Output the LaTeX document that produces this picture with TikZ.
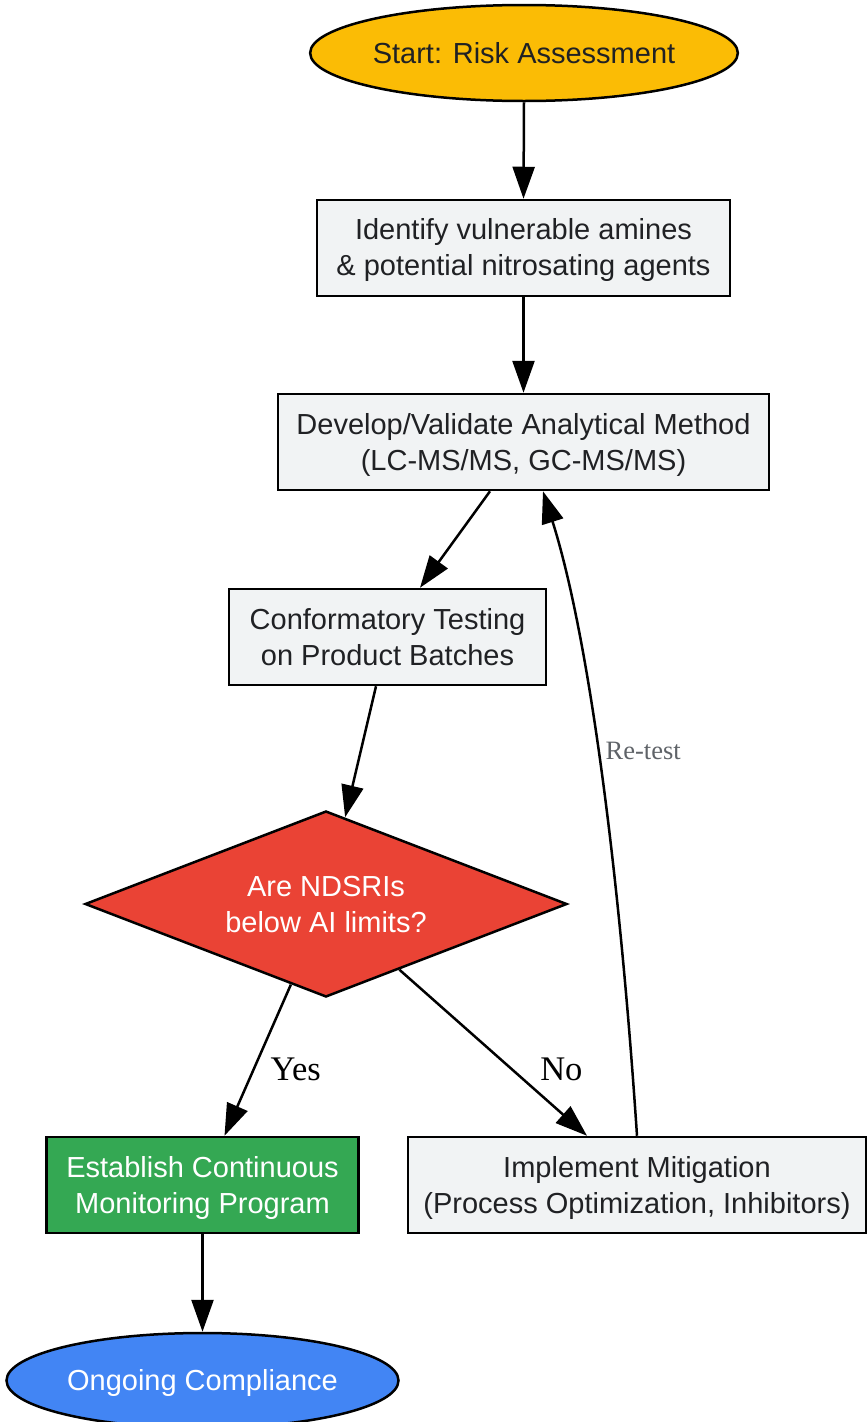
\documentclass[tikz,border=0pt]{standalone}
\usepackage{fontspec}
\setmainfont{Liberation Sans}
\newfontfamily\lblfont{Liberation Serif}
\usetikzlibrary{shapes.geometric,arrows.meta,calc}
\definecolor{gyellow}{HTML}{FBBC05}
\definecolor{gred}{HTML}{EA4335}
\definecolor{ggreen}{HTML}{34A853}
\definecolor{gblue}{HTML}{4285F4}
\definecolor{boxfill}{HTML}{F1F3F4}
\definecolor{txt}{HTML}{202124}
\definecolor{lblgray}{HTML}{5F6368}
\newcommand\lnstrut{\rule[-5.2pt]{0pt}{31.2pt}}
\begin{document}
\begin{tikzpicture}[x=1pt,y=-1pt,
  base/.style={draw=black, line width=2.5pt, inner sep=0pt, align=center,
    font=\fontsize{29}{36}\selectfont, text=txt},
  procbox/.style={base, rectangle, fill=boxfill, minimum height=96pt},
  termnode/.style={base, ellipse},
  decnode/.style={base, diamond, aspect=2.6, fill=gred, text=white},
  flow/.style={line width=2.5pt, -{Triangle[length=32pt,width=22pt]}},
  lbl/.style={font=\lblfont\fontsize{34.5}{40}\selectfont, text=black, inner sep=0pt},
  smlbl/.style={font=\lblfont\fontsize{26.5}{30}\selectfont, text=lblgray, inner sep=0pt},
]
\useasboundingbox (0,0) rectangle (867,1422);

\node[termnode, fill=gyellow, minimum width=422pt, minimum height=96pt] (start) at (524,53) {\lnstrut Start: Risk Assessment};
\node[procbox, minimum width=413pt] (ident) at (523.5,248) {\lnstrut Identify vulnerable amines\\\lnstrut\& potential nitrosating agents};
\node[procbox, minimum width=491pt] (dev) at (523.5,442) {\lnstrut Develop/Validate Analytical Method\\\lnstrut(LC-MS/MS, GC-MS/MS)};
\node[procbox, minimum width=317pt] (conf) at (387.5,637) {\lnstrut Conformatory Testing\\\lnstrut on Product Batches};
\node[decnode, minimum width=482pt, minimum height=186pt] (dia) at (326,904) {\lnstrut Are NDSRIs\\\lnstrut below AI limits?};
\node[procbox, fill=ggreen, text=white, minimum width=312pt] (est) at (202.5,1185) {\lnstrut Establish Continuous\\\lnstrut Monitoring Program};
\node[procbox, minimum width=458pt] (impl) at (637,1185) {\lnstrut Implement Mitigation\\\lnstrut(Process Optimization, Inhibitors)};
\node[termnode, fill=gblue, text=white, minimum width=392pt, minimum height=95pt] (end) at (202.5,1380.5) {\lnstrut Ongoing Compliance};

\draw[flow] (start.south) -- (ident.north);
\draw[flow] (ident.south) -- (dev.north);
\draw[flow] ([xshift=-33.5pt]dev.south) -- ([xshift=32.5pt]conf.north);
\draw[flow] ([xshift=-11.5pt]conf.south) -- ($(dia.north)!0.079!(dia.east)$);
\draw[flow] ($(dia.south)!0.145!(dia.west)$) -- node[lbl, pos=0.55, anchor=west, xshift=15pt, yshift=-1.5pt] {Yes} ([xshift=22pt]est.north);
\draw[flow] ($(dia.south)!0.303!(dia.east)$) -- node[lbl, pos=0.595, anchor=west, xshift=28pt, yshift=-1pt] {No} ([xshift=-50pt]impl.north);
\draw[flow] (est.south) -- (end.north);
\draw[flow] (impl.north) .. controls (620,880) and (590,640) .. node[smlbl, pos=0.53, anchor=west, xshift=6pt, yshift=3pt] {Re-test} ([xshift=19.5pt]dev.south);
\end{tikzpicture}
\end{document}
